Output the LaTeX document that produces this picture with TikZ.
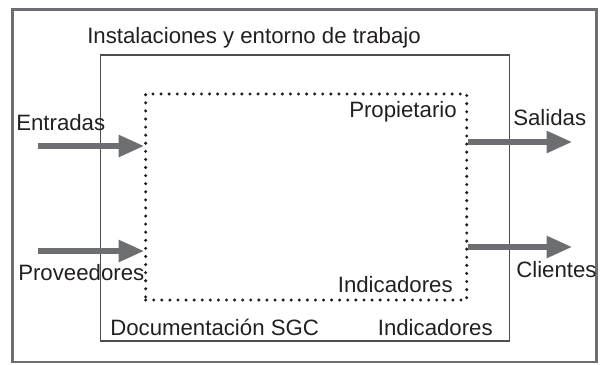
\documentclass[tikz,border=0pt]{standalone}
\usepackage{fontspec}
\setmainfont{Liberation Sans}
\usetikzlibrary{arrows.meta}
\definecolor{marco}{HTML}{6D6E71}
\definecolor{linea}{HTML}{4D4D4D}
\definecolor{tinta}{HTML}{231F20}

\begin{document}
\begin{tikzpicture}[
    x=0.025cm, y=-0.025cm,
    every node/.style={font=\fontsize{15.8}{18}\selectfont, text=tinta, inner sep=0pt},
    caja/.style={rectangle, draw=linea, line width=0.8pt},
    proceso/.style={rectangle, draw=tinta, line width=2.4pt, line cap=round, dash pattern=on 0pt off 5.75pt},
    flecha/.style={-{Triangle[length=18pt, width=15pt]}, line width=3.6pt, color=marco}
]
\useasboundingbox (0,0) rectangle (601,364);
\draw[marco, line width=2.1pt] (12.7,9.3) rectangle (596.7,362);

\node[caja, minimum width=10.21cm, minimum height=7.15cm] (entorno) at (304.85,198) {};
\node[proceso, minimum width=8.025cm, minimum height=5.15cm] (sgc) at (306.2,197) {};

% textos
\node[anchor=base west] (titulo) at (87,43) {Instalaciones y entorno de trabajo};
\node[anchor=base west] (entradas) at (16,130) {Entradas};
\node[anchor=base west] (proveedores) at (18,280) {Proveedores};
\node[anchor=base east] (propietario) at (457,117) {Propietario};
\node[anchor=base west] (salidas) at (513,125) {Salidas};
\node[anchor=base west] (clientes) at (516,277) {Clientes};
\node[anchor=base west] (doc) at (110,335) {Documentación SGC};
\node[anchor=base east] (indA) at (453,292) {Indicadores};
\node[anchor=base east] (indB) at (493,335) {Indicadores};

% flechas
\coordinate (e1) at (38,146);
\coordinate (e2) at (38,251);
\coordinate (s1) at (572,142);
\coordinate (s2) at (572,247);
\draw[flecha] (e1) -- (e1 -| sgc.west);
\draw[flecha] (e2) -- (e2 -| sgc.west);
\draw[flecha] (s1 -| sgc.east) -- (s1);
\draw[flecha] (s2 -| sgc.east) -- (s2);
\end{tikzpicture}
\end{document}
